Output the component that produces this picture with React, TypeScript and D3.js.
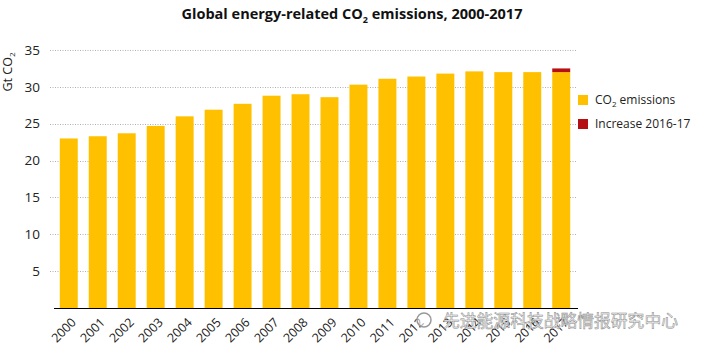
import React, { useEffect, useRef } from 'react';
import * as d3 from 'd3';

const years = ['2000', '2001', '2002', '2003', '2004', '2005', '2006', '2007', '2008', '2009',
  '2010', '2011', '2012', '2013', '2014', '2015', '2016', '2017'];
const emissions = [23.0, 23.3, 23.7, 24.7, 26.0, 26.9, 27.7, 28.8, 29.0, 28.6,
  30.3, 31.1, 31.4, 31.8, 32.1, 32.0, 32.0, 32.0];
const increase = [0, 0, 0, 0, 0, 0, 0, 0, 0, 0, 0, 0, 0, 0, 0, 0, 0, 0.5];
const yTicks = [5, 10, 15, 20, 25, 30, 35];

const YELLOW = '#FFC000';
const RED = '#B50F14';
const FONT = '"Open Sans", "Liberation Sans", sans-serif';

function App() {
  const ref = useRef<SVGSVGElement>(null);

  useEffect(() => {
    const svg = d3.select(ref.current);
    svg.selectAll('*').remove();

    const left = 54, right = 576, top = 50, bottom = 308;

    const x = d3.scaleBand().domain(years).range([left, right]).paddingInner(0.38).paddingOuter(0.2);
    const y = d3.scaleLinear().domain([0, 35]).range([bottom, top]);

    // grid
    svg.append('g')
      .selectAll('line')
      .data(yTicks)
      .join('line')
      .attr('x1', 50).attr('x2', right)
      .attr('y1', d => Math.round(y(d)) + 0.5).attr('y2', d => Math.round(y(d)) + 0.5)
      .attr('stroke', '#b0b0b0')
      .attr('stroke-width', 1)
      .attr('stroke-dasharray', '1,1.5');

    // y tick labels
    svg.append('g')
      .selectAll('text')
      .data(yTicks)
      .join('text')
      .attr('x', 40)
      .attr('y', d => y(d))
      .attr('dy', '0.35em')
      .attr('text-anchor', 'end')
      .attr('font-family', FONT)
      .attr('font-size', 13.5)
      .attr('fill', '#222')
      .text(d => d);

    // bars
    svg.append('g')
      .selectAll('rect')
      .data(years)
      .join('rect')
      .attr('x', d => x(d)!)
      .attr('width', x.bandwidth())
      .attr('y', (d, i) => y(emissions[i]))
      .attr('height', (d, i) => y(0) - y(emissions[i]))
      .attr('fill', YELLOW);

    svg.append('g')
      .selectAll('rect')
      .data(years.filter((d, i) => increase[i] > 0))
      .join('rect')
      .attr('x', d => x(d)!)
      .attr('width', x.bandwidth())
      .attr('y', d => { const i = years.indexOf(d); return y(emissions[i] + increase[i]); })
      .attr('height', d => { const i = years.indexOf(d); return y(emissions[i]) - y(emissions[i] + increase[i]); })
      .attr('fill', RED);

    // baseline
    svg.append('line')
      .attr('x1', left).attr('x2', right + 2)
      .attr('y1', bottom + 0.5).attr('y2', bottom + 0.5)
      .attr('stroke', '#000').attr('stroke-width', 1.2);

    // x labels
    svg.append('g')
      .selectAll('text')
      .data(years)
      .join('text')
      .attr('transform', d => `translate(${x(d)! + x.bandwidth() / 2 + 5},${bottom + 12}) rotate(-45)`)
      .attr('text-anchor', 'end')
      .attr('dy', '0.35em')
      .attr('font-family', FONT)
      .attr('font-size', 12.5)
      .attr('fill', '#222')
      .text(d => d);

    // y axis title
    const yt = svg.append('text')
      .attr('transform', 'translate(12,72) rotate(-90)')
      .attr('text-anchor', 'middle')
      .attr('font-family', FONT)
      .attr('font-size', 12.5)
      .attr('fill', '#222');
    yt.append('tspan').text('Gt CO');
    yt.append('tspan').attr('font-size', 8).attr('dy', 3).text('2');

    // title
    const t = svg.append('text')
      .attr('x', 352).attr('y', 19)
      .attr('text-anchor', 'middle')
      .attr('font-family', FONT)
      .attr('font-weight', 'bold')
      .attr('font-size', 14.5)
      .attr('fill', '#111');
    t.append('tspan').text('Global energy-related CO');
    t.append('tspan').attr('font-size', 9).attr('dy', 4).text('2');
    t.append('tspan').attr('dy', -4).text(' emissions, 2000-2017');

    // legend
    const legend = [
      { label: 'CO', sub: '2', rest: ' emissions', color: YELLOW },
      { label: 'Increase 2016-17', sub: '', rest: '', color: RED },
    ];
    const lg = svg.append('g').selectAll('g').data(legend).join('g')
      .attr('transform', (d, i) => `translate(578,${95 + i * 24})`);
    lg.append('rect').attr('width', 10).attr('height', 10).attr('fill', d => d.color);
    const lt = lg.append('text')
      .attr('x', 17).attr('y', 5).attr('dy', '0.35em')
      .attr('font-family', FONT).attr('font-size', 12).attr('fill', '#222');
    lt.append('tspan').text(d => d.label);
    lt.filter(d => d.sub !== '').append('tspan').attr('font-size', 8).attr('dy', 3).text(d => d.sub);
    lt.filter(d => d.rest !== '').append('tspan').attr('dy', -3).text(d => d.rest);

    // watermark
    svg.append('circle').attr('cx', 424).attr('cy', 320).attr('r', 7)
      .attr('fill', 'rgba(255,255,255,0.6)').attr('stroke', '#999').attr('stroke-width', 1.5);
    svg.append('text')
      .attr('x', 443).attr('y', 321).attr('dy', '0.35em')
      .attr('font-family', '"Noto Sans CJK SC", sans-serif')
      .attr('font-size', 16.8)
      .attr('fill', '#f2f2f2')
      .attr('stroke', '#8a8a8a')
      .attr('stroke-width', 0.5)
      .text('先进能源科技战略情报研究中心');
  }, []);

  return (
    <svg
      ref={ref}
      width={704}
      height={352}
      style={{ position: 'absolute', left: 0, top: 0, display: 'block', background: '#fff' }}
    />
  );
}

export default App;
